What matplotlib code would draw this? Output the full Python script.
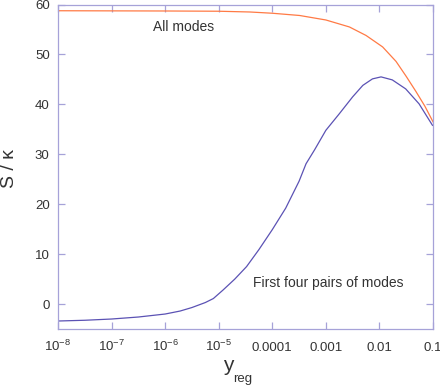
import numpy as np
import matplotlib
matplotlib.use('Agg')
import matplotlib.pyplot as plt
from matplotlib.ticker import FixedLocator, FixedFormatter, NullLocator

plt.rcParams['font.family'] = ['Liberation Sans', 'DejaVu Sans']
plt.rcParams['mathtext.fontset'] = 'custom'
plt.rcParams['mathtext.rm'] = 'Liberation Sans'
plt.rcParams['mathtext.it'] = 'Liberation Sans'

# log10 of y_reg
all_logx = [-8, -6, -5, -4.42, -4.0, -3.49, -3.0, -2.56, -2.25, -1.94, -1.69,
            -1.5, -1.32, -1.15, -1.0]
all_modes = [58.75, 58.7, 58.65, 58.5, 58.25, 57.8, 56.9, 55.5, 53.8, 51.5, 48.6,
             45.6, 42.6, 39.6, 36.5]

four_logx = [-8, -7.5, -7, -6.5, -6, -5.72, -5.5, -5.25, -5.1, -4.92, -4.7, -4.48,
             -4.25, -4.0, -3.75, -3.5, -3.37, -3.21, -3.0, -2.75, -2.5, -2.31,
             -2.13, -1.97, -1.76, -1.51, -1.26, -1.01]
four_pairs = [-3.4, -3.25, -3.0, -2.6, -2.0, -1.4, -0.7, 0.3, 1.1, 2.8, 5.0, 7.5,
              10.9, 14.9, 19.2, 24.6, 28.1, 30.9, 34.8, 38.1, 41.5, 43.8,
              45.1, 45.5, 44.9, 43.1, 40.1, 35.8]

xticks = [1e-8, 1e-7, 1e-6, 1e-5, 1e-4, 1e-3, 1e-2, 1e-1]
xticklabels = [r'10$^{-8}$', r'10$^{-7}$', r'10$^{-6}$', r'10$^{-5}$',
               '0.0001', '0.001', '0.01', '0.1']
yticks = [0, 10, 20, 30, 40, 50, 60]

axcol = '#a6a2d8'
txtcol = '#333333'
W, H = 440, 387

fig = plt.figure(figsize=(W / 100, H / 100), dpi=100)
ax = fig.add_axes([58 / W, 1 - 329 / H, 375 / W, 324.5 / H])

ax.plot(10 ** np.array(all_logx), all_modes, color='#ff7a45', lw=0.9)
ax.plot(10 ** np.array(four_logx), four_pairs, color='#5b52b4', lw=0.9)

ax.set_xscale('log')
ax.set_xlim(1e-8, 1e-1)
ax.set_ylim(-5, 60)
ax.xaxis.set_major_locator(FixedLocator(xticks))
ax.xaxis.set_major_formatter(FixedFormatter(xticklabels))
ax.xaxis.set_minor_locator(NullLocator())
ax.set_yticks(yticks)

for s in ax.spines.values():
    s.set_color(axcol)
    s.set_linewidth(0.9)
ax.tick_params(axis='both', which='both', direction='in', length=5, width=0.9,
               color=axcol, labelcolor=txtcol, labelsize=9.5,
               top=True, right=True)
ax.tick_params(axis='y', pad=6)
ax.tick_params(axis='x', pad=16)
for lab in ax.get_xticklabels():
    lab.set_va('baseline')

ax.set_ylabel('S / κ', fontsize=14, color=txtcol)
ax.yaxis.set_label_coords(-0.107, 0.496)

# x label: big "y" with a small "reg" subscript
fig.text(223 / W, 1 - 371 / H, 'y', fontsize=15, color=txtcol, va='baseline', ha='left')
fig.text(233 / W, 1 - 382 / H, 'reg', fontsize=9.5, color=txtcol, va='baseline', ha='left')

ax.text(2.2e-6, 55.4, 'All modes', fontsize=10, color=txtcol, ha='center', va='center')
ax.text(1.12e-3, 4.2, 'First four pairs of modes', fontsize=10, color=txtcol,
        ha='center', va='center')

fig.savefig('out.png', dpi=100)
